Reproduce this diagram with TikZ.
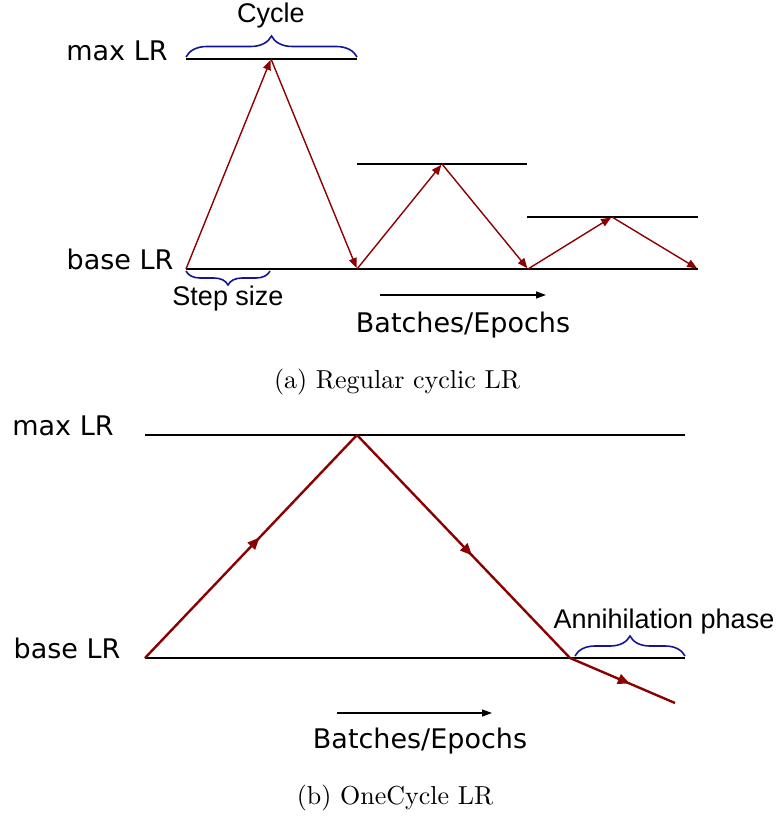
\documentclass[tikz,border=0pt]{standalone}
\usepackage{fontspec}
\newfontfamily\dejavu{DejaVu Sans}
\newfontfamily\arialish{Liberation Sans}
\newfontfamily\captfont{lmroman10-regular.otf}
\usetikzlibrary{arrows.meta,decorations.pathreplacing,decorations.markings}
\definecolor{lrred}{RGB}{139,0,0}
\definecolor{bracecol}{RGB}{20,20,150}
\begin{document}
\begin{tikzpicture}[x=1pt,y=-1pt,
  level/.style={draw=black,line width=2.8pt},
  ramp/.style={draw=lrred,line width=1.4pt,-{Triangle[length=10pt,width=8pt]},shorten >=1pt},
  oneramp/.style={draw=lrred,line width=2.4pt,postaction={decorate},
    decoration={markings,mark=at position #1 with {\arrow{Triangle[length=12pt,width=10pt]}}}},
  curly/.style={draw=bracecol,line width=1.6pt,decorate,decoration={brace,amplitude=#1}},
  lrlabel/.style={anchor=base,inner sep=0pt,font=\dejavu\fontsize{27}{32}\selectfont},
  bracelabel/.style={anchor=base,inner sep=0pt,font=\arialish\fontsize{27}{31}\selectfont},
  capt/.style={anchor=base,inner sep=0pt,font=\captfont\fontsize{26}{30}\selectfont},
  timeline/.style={draw=black,line width=1.3pt,-{Triangle[length=10pt,width=7pt]}}]
\useasboundingbox (0,0) rectangle (781,816);
% (a) regular cyclic LR
\coordinate (b0) at (186,269);
\coordinate (b1) at (357,269);
\coordinate (b2) at (528,269);
\coordinate (b3) at (698,269);
\coordinate (p1) at (271,59);
\coordinate (p2) at (442,164);
\coordinate (p3) at (612,217);
\draw[level] (186,59) -- (357,59);
\draw[level] (357,164) -- (527,164);
\draw[level] (527,217) -- (698,217);
\draw[level] (b0) -- (b3);
\draw[ramp] (b0) -- (p1);
\draw[ramp] (p1) -- (b1);
\draw[ramp] (b1) -- (p2);
\draw[ramp] (p2) -- (b2);
\draw[ramp] (b2) -- (p3);
\draw[ramp] (p3) -- (b3);
\draw[curly=21pt] (186,57) -- (357,57);
\draw[curly=14pt] (270,271) -- (186,271);
\node[lrlabel] (maxa) at (117,60) {max LR};
\node[lrlabel] (basea) at (120,269) {base LR};
\node[bracelabel] (cycle) at (271,23) {Cycle};
\node[bracelabel] (step) at (228,305) {Step size};
\coordinate (ta) at (380,295);
\coordinate (tb) at (546,295);
\draw[timeline] (ta) -- (tb);
\node[lrlabel] (epa) at (463,332) {Batches/Epochs};
\node[capt] (capa) at (397,388) {(a) Regular cyclic LR};
% (b) OneCycle LR
\coordinate (s0) at (145,658);
\coordinate (s1) at (357,435);
\coordinate (s2) at (570,658);
\coordinate (s3) at (675,703);
\draw[level] (145,435) -- (685,435);
\draw[level] (s0) -- (685,658);
\draw[oneramp=0.54] (s0) -- (s1);
\draw[oneramp=0.54] (s1) -- (s2);
\draw[oneramp=0.57] (s2) -- (s3);
\draw[curly=20pt] (575,656) -- (685,656);
\node[lrlabel] (maxb) at (63,435) {max LR};
\node[lrlabel] (baseb) at (67,658) {base LR};
\node[bracelabel] (anni) at (664,628) {Annihilation phase};
\coordinate (tc) at (337,713);
\coordinate (td) at (492,713);
\draw[timeline] (tc) -- (td);
\node[lrlabel] (epb) at (420,748) {Batches/Epochs};
\node[capt] (capb) at (395,804) {(b) OneCycle LR};
\end{tikzpicture}
\end{document}
